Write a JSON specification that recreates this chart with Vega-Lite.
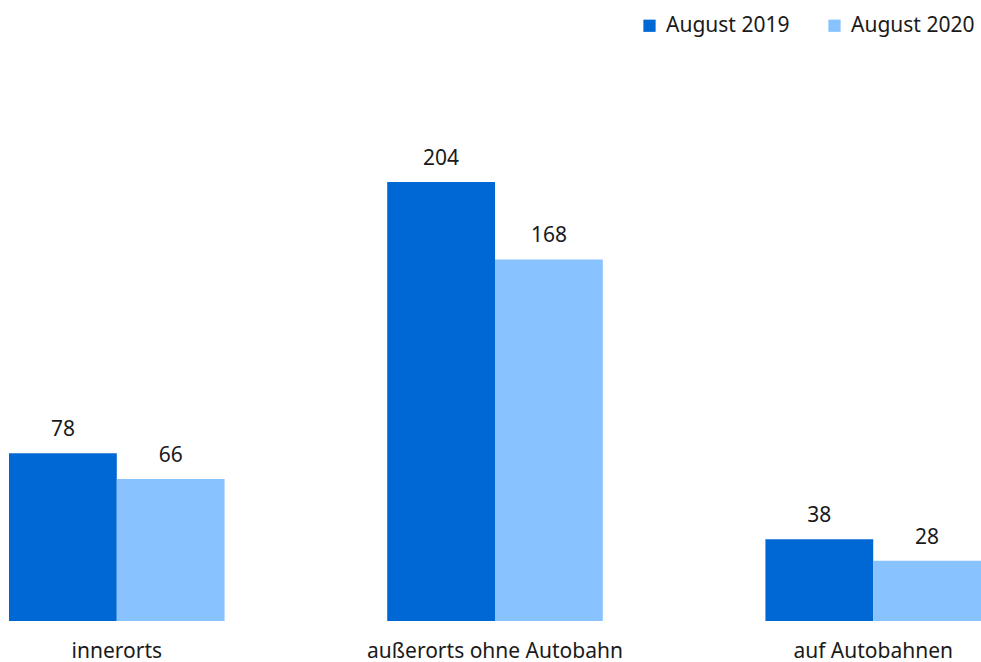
{
  "$schema": "https://vega.github.io/schema/vega-lite/v6.json",
  "autosize": {"type": "none"},
  "width": 972,
  "height": 538,
  "padding": {"left": 9, "top": 83, "right": 0, "bottom": 41},
  "background": "white",
  "config": {
    "view": {"stroke": null},
    "font": "Noto Sans"
  },
  "data": {
    "values": [
      {"kategorie": "innerorts", "jahr": "August 2019", "wert": 78},
      {"kategorie": "innerorts", "jahr": "August 2020", "wert": 66},
      {"kategorie": "außerorts ohne Autobahn", "jahr": "August 2019", "wert": 204},
      {"kategorie": "außerorts ohne Autobahn", "jahr": "August 2020", "wert": 168},
      {"kategorie": "auf Autobahnen", "jahr": "August 2019", "wert": 38},
      {"kategorie": "auf Autobahnen", "jahr": "August 2020", "wert": 28}
    ]
  },
  "encoding": {
    "x": {
      "field": "kategorie",
      "type": "nominal",
      "sort": ["innerorts", "außerorts ohne Autobahn", "auf Autobahnen"],
      "scale": {"paddingInner": 0.43, "paddingOuter": 0},
      "axis": {
        "title": null,
        "labelAngle": 0,
        "domain": false,
        "ticks": false,
        "labelPadding": 19,
        "labelFontSize": 21,
        "labelLimit": 0,
        "labelColor": "#1a1a1a",
        "labelFont": "Noto Sans"
      }
    },
    "xOffset": {"field": "jahr", "type": "nominal", "scale": {"paddingInner": 0, "paddingOuter": 0}},
    "y": {
      "field": "wert",
      "type": "quantitative",
      "scale": {"domain": [0, 250], "nice": false},
      "axis": null
    }
  },
  "layer": [
    {
      "mark": {"type": "bar"},
      "encoding": {
        "color": {
          "field": "jahr",
          "type": "nominal",
          "scale": {"domain": ["August 2019", "August 2020"], "range": ["#0068D4", "#88C3FF"]},
          "legend": {
            "title": null,
            "orient": "none",
            "direction": "horizontal",
            "legendX": 630,
            "legendY": -68,
            "symbolType": "square",
            "symbolSize": 150,
            "symbolOpacity": 1,
            "labelFontSize": 21,
            "labelColor": "#1a1a1a",
            "labelFont": "Noto Sans",
            "labelOffset": 6,
            "labelLimit": 0,
            "columnPadding": 34,
            "symbolStrokeWidth": 0
          }
        }
      }
    },
    {
      "mark": {"type": "text", "baseline": "bottom", "dy": -13, "fontSize": 21, "color": "#1a1a1a", "font": "Noto Sans"},
      "encoding": {
        "text": {"field": "wert", "type": "quantitative"}
      }
    }
  ]
}
